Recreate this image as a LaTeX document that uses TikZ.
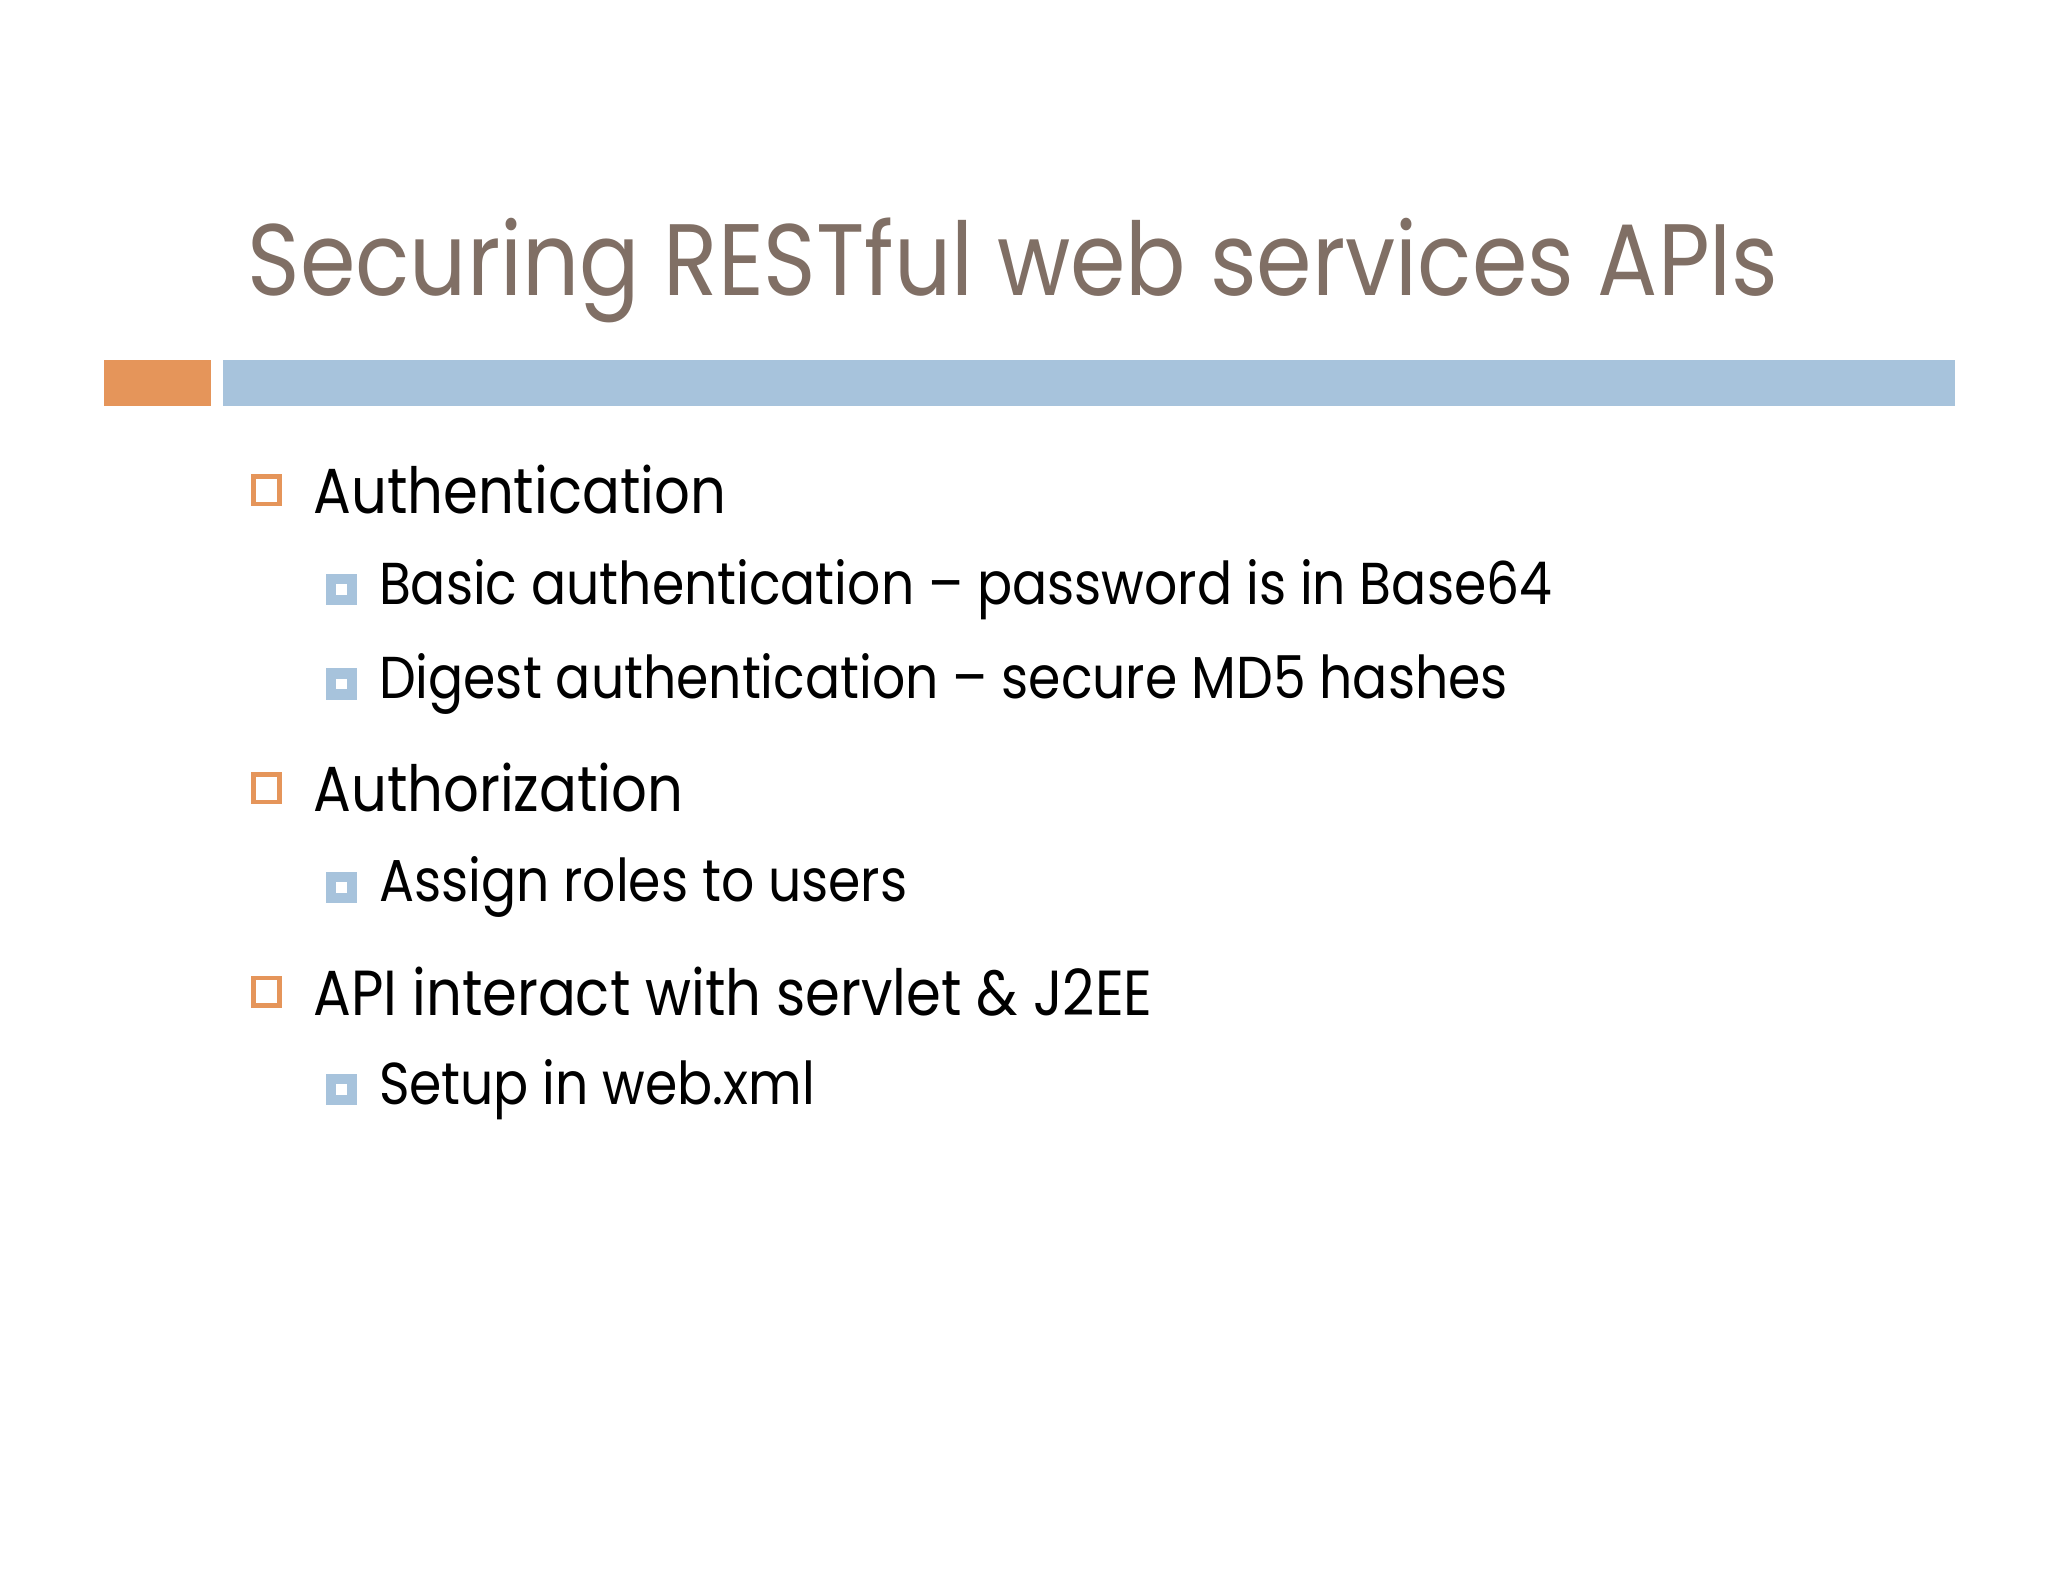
\documentclass[tikz,border=0pt]{standalone}
\usepackage{fontspec}
\setmainfont{Poppins}[FakeStretch=0.88]
\definecolor{ttl}{RGB}{128,111,101}
\definecolor{org}{RGB}{229,149,90}
\definecolor{blu}{RGB}{167,195,220}
\begin{document}
\begin{tikzpicture}[x=0.01cm,y=-0.01cm,
  lone/.style={anchor=west,inner sep=0,font=\fontsize{13.8}{17}\selectfont},
  ltwo/.style={anchor=west,inner sep=0,font=\fontsize{12.8}{16}\selectfont}]
\useasboundingbox[fill=white] (0,0) rectangle (1560,1205);
\node[anchor=base west,inner sep=0,text=ttl,font=\fontsize{22}{26}\selectfont] (title) at (188,225) {Securing RESTful web services APIs};
\fill[org] (79,274) rectangle (161,309);
\fill[blu] (170,274) rectangle (1489,309);
\foreach \y/\t [count=\i] in {373/Authentication,600/Authorization,755/API interact with servlet \& J2EE}{
  \draw[org,line width=1pt] (193,\y-10) rectangle (213,\y+11);
  \node[lone] (a\i) at (238,\y) {\t};
}
\foreach \y/\t [count=\i] in {449/Basic authentication -- password is in Base64,521/Digest authentication -- secure MD5 hashes,676/Assign roles to users,830/Setup in web.xml}{
  \draw[blu,line width=2.2pt] (252,\y-8) rectangle (268,\y+8);
  \node[ltwo] (b\i) at (288,\y) {\t};
}
\end{tikzpicture}
\end{document}
